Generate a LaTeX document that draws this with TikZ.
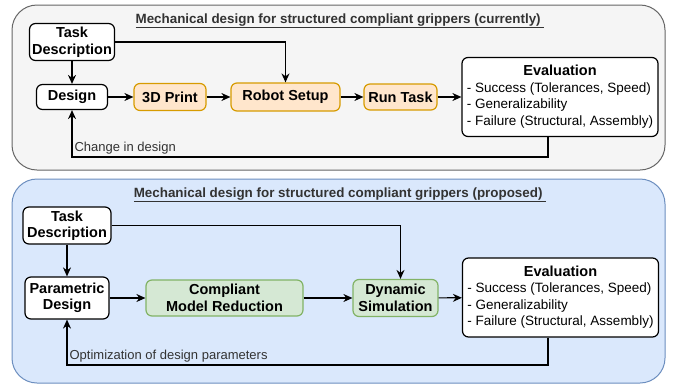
\documentclass[tikz,border=0pt]{standalone}
\usepackage{fontspec}
\setmainfont{Liberation Sans}
\usepackage{xcolor}
\usepackage{tikz}
\usetikzlibrary{arrows.meta}

\definecolor{panelfill}{HTML}{F5F5F5}
\definecolor{panelline}{HTML}{666666}
\definecolor{bluefill}{HTML}{DAE8FC}
\definecolor{blueline}{HTML}{6C8EBF}
\definecolor{orangefill}{HTML}{FFE6CC}
\definecolor{orangeline}{HTML}{D79B00}
\definecolor{greenfill}{HTML}{D5E8D4}
\definecolor{greenline}{HTML}{82B366}
\definecolor{textgrey}{HTML}{333333}

\newcommand{\evallist}{%
  \begin{tabular}{@{}l@{}}
    \multicolumn{1}{@{}c@{}}{\bfseries\fontsize{14.5}{16.5}\selectfont Evaluation}\\
    - Success (Tolerances, Speed)\\
    - Generalizability\\
    - Failure (Structural, Assembly)
  \end{tabular}}

\begin{document}
\begin{tikzpicture}
    [x=1pt,y=-1pt,
    node/.style={draw=black,fill=white,rounded corners=6pt,line width=1.2pt,
      align=center,inner sep=1pt,font=\fontsize{14.5}{16.5}\selectfont\bfseries},
    printnode/.style={node,draw=orangeline,fill=orangefill},
    simnode/.style={node,draw=greenline,fill=greenfill},
    evalnode/.style={node,font=\fontsize{13.5}{16.5}\selectfont,minimum width=196pt,minimum height=79pt},
    arc/.style={->,>={Stealth[length=9pt,width=8pt]},line width=1.2pt},
    arclabel/.style={pos=0.5,anchor=south west,inner sep=2pt,text=textgrey,
      font=\fontsize{13}{15}\selectfont},
    panel/.style={rounded corners=25pt,line width=1pt},
    title/.style={text=textgrey,font=\fontsize{13.4}{15}\selectfont\bfseries}]

    \useasboundingbox (0,0) rectangle (673,384);

    % current workflow
    \draw [panel,draw=panelline,fill=panelfill] (12,5) rectangle (665,170);
    \node (titleA) [title] at (340,21) {\underline{Mechanical design for structured compliant grippers (currently)\ }};

    \node (taskA) [node,minimum width=85pt,minimum height=37pt] at (72,42) {Task\\Description};
    \node (designA) [node,minimum width=71pt,minimum height=25pt] at (72,97) {Design};
    \node (printA) [printnode,minimum width=72pt,minimum height=27pt] at (170,97) {3D Print};
    \node (setupA) [printnode,minimum width=109pt,minimum height=28pt] at (285.5,97) {Robot Setup};
    \node (runA) [printnode,minimum width=73pt,minimum height=26pt] at (400.5,97) {Run Task};
    \node (evalA) [evalnode] at (560,97) {\evallist};
    \coordinate (backA) at (548,157);

    \draw [arc] (taskA) -- (designA);
    \draw [arc] (taskA.east) -| (setupA.north);
    \draw [arc] (designA) -- (printA);
    \draw [arc] (printA) -- (setupA);
    \draw [arc] (setupA) -- (runA);
    \draw [arc] (runA) -- (evalA);
    \draw [arc] (evalA.south -| backA) -- (backA) -| (designA.south) node [arclabel] {Change in design};

    % proposed workflow
    \draw [panel,draw=blueline,fill=bluefill] (12,179) rectangle (665,383);
    \node (titleB) [title] at (340,195) {\underline{Mechanical design for structured compliant grippers (proposed)\ }};

    \node (taskB) [node,minimum width=88pt,minimum height=37pt] at (67,225.5) {Task\\Description};
    \node (paramB) [node,minimum width=84pt,minimum height=42pt] at (67,298) {Parametric\\Design};
    \node (reduceB) [simnode,minimum width=157pt,minimum height=36pt] at (224.5,298) {Compliant\\Model Reduction};
    \node (simB) [simnode,minimum width=85pt,minimum height=37pt] at (395.5,298) {Dynamic\\Simulation};
    \node (evalB) [evalnode] at (560.5,297.5) {\evallist};
    \coordinate (backB) at (548,365);

    \draw [arc] (taskB) -- (paramB);
    \draw [arc] (taskB.east) -| ([xshift=5pt]simB.north);
    \draw [arc] (paramB) -- (reduceB);
    \draw [arc] (reduceB) -- (simB);
    \draw [arc] (simB) -- (evalB);
    \draw [arc] (evalB.south -| backB) -- (backB) -| (paramB.south) node [arclabel] {Optimization of design parameters};
\end{tikzpicture}
\end{document}
